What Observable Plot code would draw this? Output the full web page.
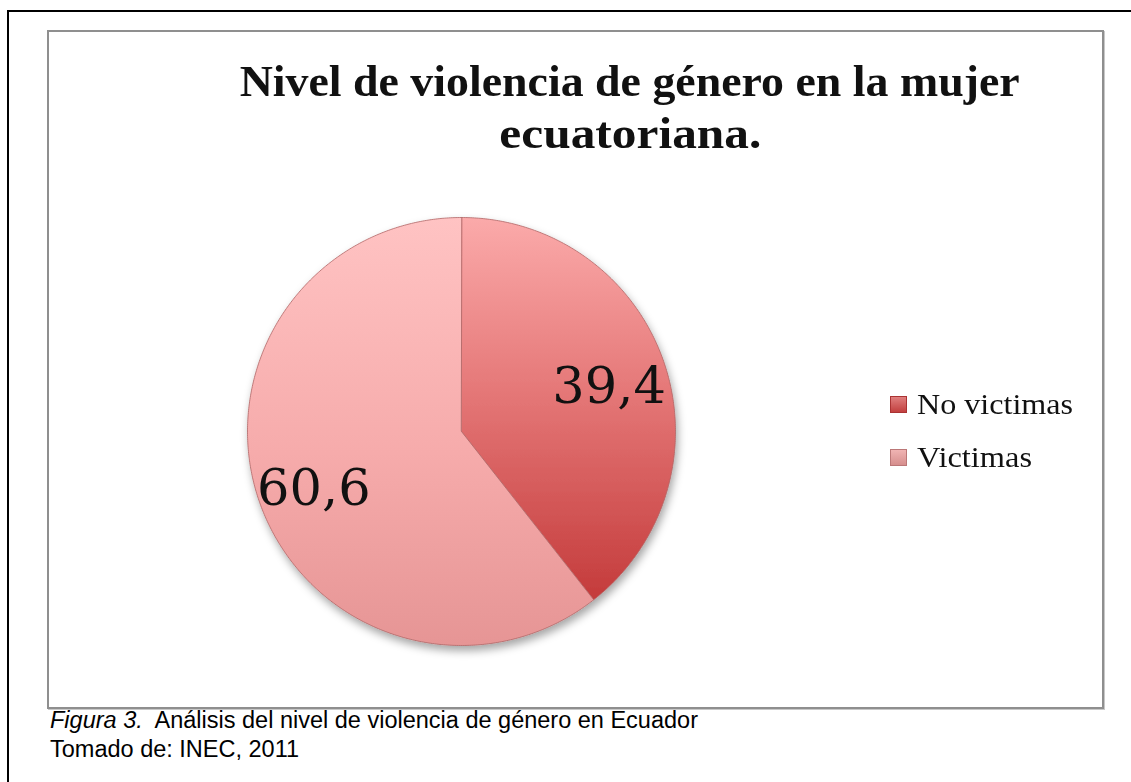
<!DOCTYPE html>
<html>
<head>
<meta charset="utf-8">
<script src="https://cdn.jsdelivr.net/npm/d3@7"></script>
<script src="https://cdn.jsdelivr.net/npm/@observablehq/plot@0.6"></script>
<style>
  html, body { margin: 0; padding: 0; background: #fff; }
  #page { position: relative; width: 1131px; height: 782px; overflow: hidden; background: #fff; }
  #outer-top { position: absolute; left: 7px; top: 10px; width: 1130px; height: 2px; background: #000; }
  #outer-left { position: absolute; left: 7px; top: 10px; width: 2px; height: 780px; background: #000; }
  #box { position: absolute; left: 47px; top: 30px; width: 1053px; height: 675px;
         border: 2px solid #8f8f8f; box-shadow: 1px 1px 0 #c8c8c8; }
  #chart { position: absolute; left: 0; top: 0; }
  .title { position: absolute; font-family: "Liberation Serif", "DejaVu Serif", serif; font-weight: bold;
           font-size: 45px; color: #111; white-space: nowrap; transform-origin: center; }
  .legend { position: absolute; font-family: "Liberation Serif", "DejaVu Serif", serif; font-size: 30px; color: #111;
            white-space: nowrap; line-height: 1; transform-origin: left center; }
  .sw { position: absolute; width: 17px; height: 17px; box-sizing: border-box; }
  .cap { position: absolute; left: 50px; font-family: Arial, "Liberation Sans", sans-serif; font-size: 23.5px; color: #000; white-space: pre; line-height: 1; }
</style>
</head>
<body>
<div id="page">
  <div id="outer-top"></div>
  <div id="outer-left"></div>
  <div id="box"></div>
  <div id="chart"></div>
</div>
<script>
// ---- data ----
const categories = ["No victimas", "Victimas"];
const values = [39.4, 60.6];
const valueLabels = ["39,4", "60,6"];
const titleLines = ["Nivel de violencia de género en la mujer", "ecuatoriana."];
const captionItalic = "Figura 3.";
const captionRest = "  Análisis del nivel de violencia de género en Ecuador";
const captionLine2 = "Tomado de: INEC, 2011";

// ---- build slices from the data ----
const pie = d3.pie().sort(null).value(d => d.value);
const rows = categories.map((c, i) => ({category: c, value: values[i], label: valueLabels[i]}));
const arcs = pie(rows);
const pts = [];
const labels = [];
arcs.forEach(a => {
  const cat = a.data.category;
  pts.push({category: cat, x: 0, y: 0});
  const n = Math.max(2, Math.ceil((a.endAngle - a.startAngle) / (Math.PI / 360)));
  for (let k = 0; k <= n; k++) {
    const t = a.startAngle + (a.endAngle - a.startAngle) * k / n;
    pts.push({category: cat, x: Math.sin(t), y: Math.cos(t)});
  }
  const m = (a.startAngle + a.endAngle) / 2;
  const rr = 0.73;
  labels.push({category: cat, label: a.data.label, x: rr * Math.sin(m), y: rr * Math.cos(m) - 0.03});
});

const chart = Plot.plot({
  width: 1131,
  height: 782,
  margin: 0,
  x: {domain: [-1, 1], range: [247, 675], axis: null},
  y: {domain: [-1, 1], range: [645, 217], axis: null},
  color: {domain: categories, range: ["url(#gNo)", "url(#gVic)"]},
  marks: [
    Plot.line(pts, {x: "x", y: "y", z: "category", fill: "category", stroke: "#b06464", strokeWidth: 0.8, curve: "linear-closed"}),
    Plot.text(labels, {x: "x", y: "y", text: "label", fontSize: 51, fill: "#111",
      fontFamily: "DejaVu Serif, Liberation Serif, serif"})
  ]
});
chart.style.background = "transparent";
chart.style.overflow = "visible";
const svg = d3.select(chart);
const defs = svg.insert("defs", ":first-child");
const g1 = defs.append("linearGradient").attr("id", "gNo").attr("x1", 0).attr("y1", 0).attr("x2", 0).attr("y2", 1);
g1.append("stop").attr("offset", "0%").attr("stop-color", "#fbaaaa");
g1.append("stop").attr("offset", "45%").attr("stop-color", "#e57878");
g1.append("stop").attr("offset", "100%").attr("stop-color", "#c43b3b");
const g2 = defs.append("linearGradient").attr("id", "gVic").attr("x1", 0).attr("y1", 0).attr("x2", 0).attr("y2", 1);
g2.append("stop").attr("offset", "0%").attr("stop-color", "#ffc3c3");
g2.append("stop").attr("offset", "55%").attr("stop-color", "#f6abab");
g2.append("stop").attr("offset", "100%").attr("stop-color", "#e69595");
const f = defs.append("filter").attr("id", "shadow").attr("x", "-10%").attr("y", "-10%").attr("width", "130%").attr("height", "130%");
f.append("feDropShadow").attr("dx", 2).attr("dy", 5).attr("stdDeviation", 4).attr("flood-color", "#000").attr("flood-opacity", 0.35);
svg.selectAll("g[aria-label='line']").attr("filter", "url(#shadow)");
document.getElementById("chart").appendChild(chart);

// ---- title ----
const page = document.getElementById("page");
function addTitle(text, cx, baseline, targetW) {
  const d = document.createElement("div");
  d.className = "title";
  d.textContent = text;
  page.appendChild(d);
  const w = d.getBoundingClientRect().width;
  const h = d.getBoundingClientRect().height;
  d.style.left = (cx - w / 2) + "px";
  d.style.top = (baseline - h * 0.8) + "px";
  if (targetW) d.style.transform = `scaleX(${targetW / w})`;
}
addTitle(titleLines[0], 630, 97, 780);
addTitle(titleLines[1], 630, 149, 262);

// ---- legend ----
const legendColors = [
  "linear-gradient(#e07f7e, #c2403f)",
  "linear-gradient(#f0b4b3, #d68e8d)"
];
const legendY = [396, 449];
const legendW = [156, 115];
categories.forEach((c, i) => {
  const s = document.createElement("div");
  s.className = "sw";
  s.style.left = "890px";
  s.style.top = legendY[i] + "px";
  s.style.background = legendColors[i];
  s.style.border = "1px solid " + (i === 0 ? "#a33" : "#b77");
  page.appendChild(s);
  const t = document.createElement("div");
  t.className = "legend";
  t.textContent = c;
  t.style.left = "917px";
  t.style.top = (legendY[i] - 7) + "px";
  page.appendChild(t);
  const w = t.getBoundingClientRect().width;
  t.style.transform = `scaleX(${legendW[i] / w})`;
});

// ---- caption ----
const c1 = document.createElement("div");
c1.className = "cap";
c1.style.top = "709px";
const it = document.createElement("i");
it.textContent = captionItalic;
c1.appendChild(it);
c1.appendChild(document.createTextNode(captionRest));
page.appendChild(c1);
const c2 = document.createElement("div");
c2.className = "cap";
c2.style.top = "738px";
c2.textContent = captionLine2;
page.appendChild(c2);
</script>
</body>
</html>
